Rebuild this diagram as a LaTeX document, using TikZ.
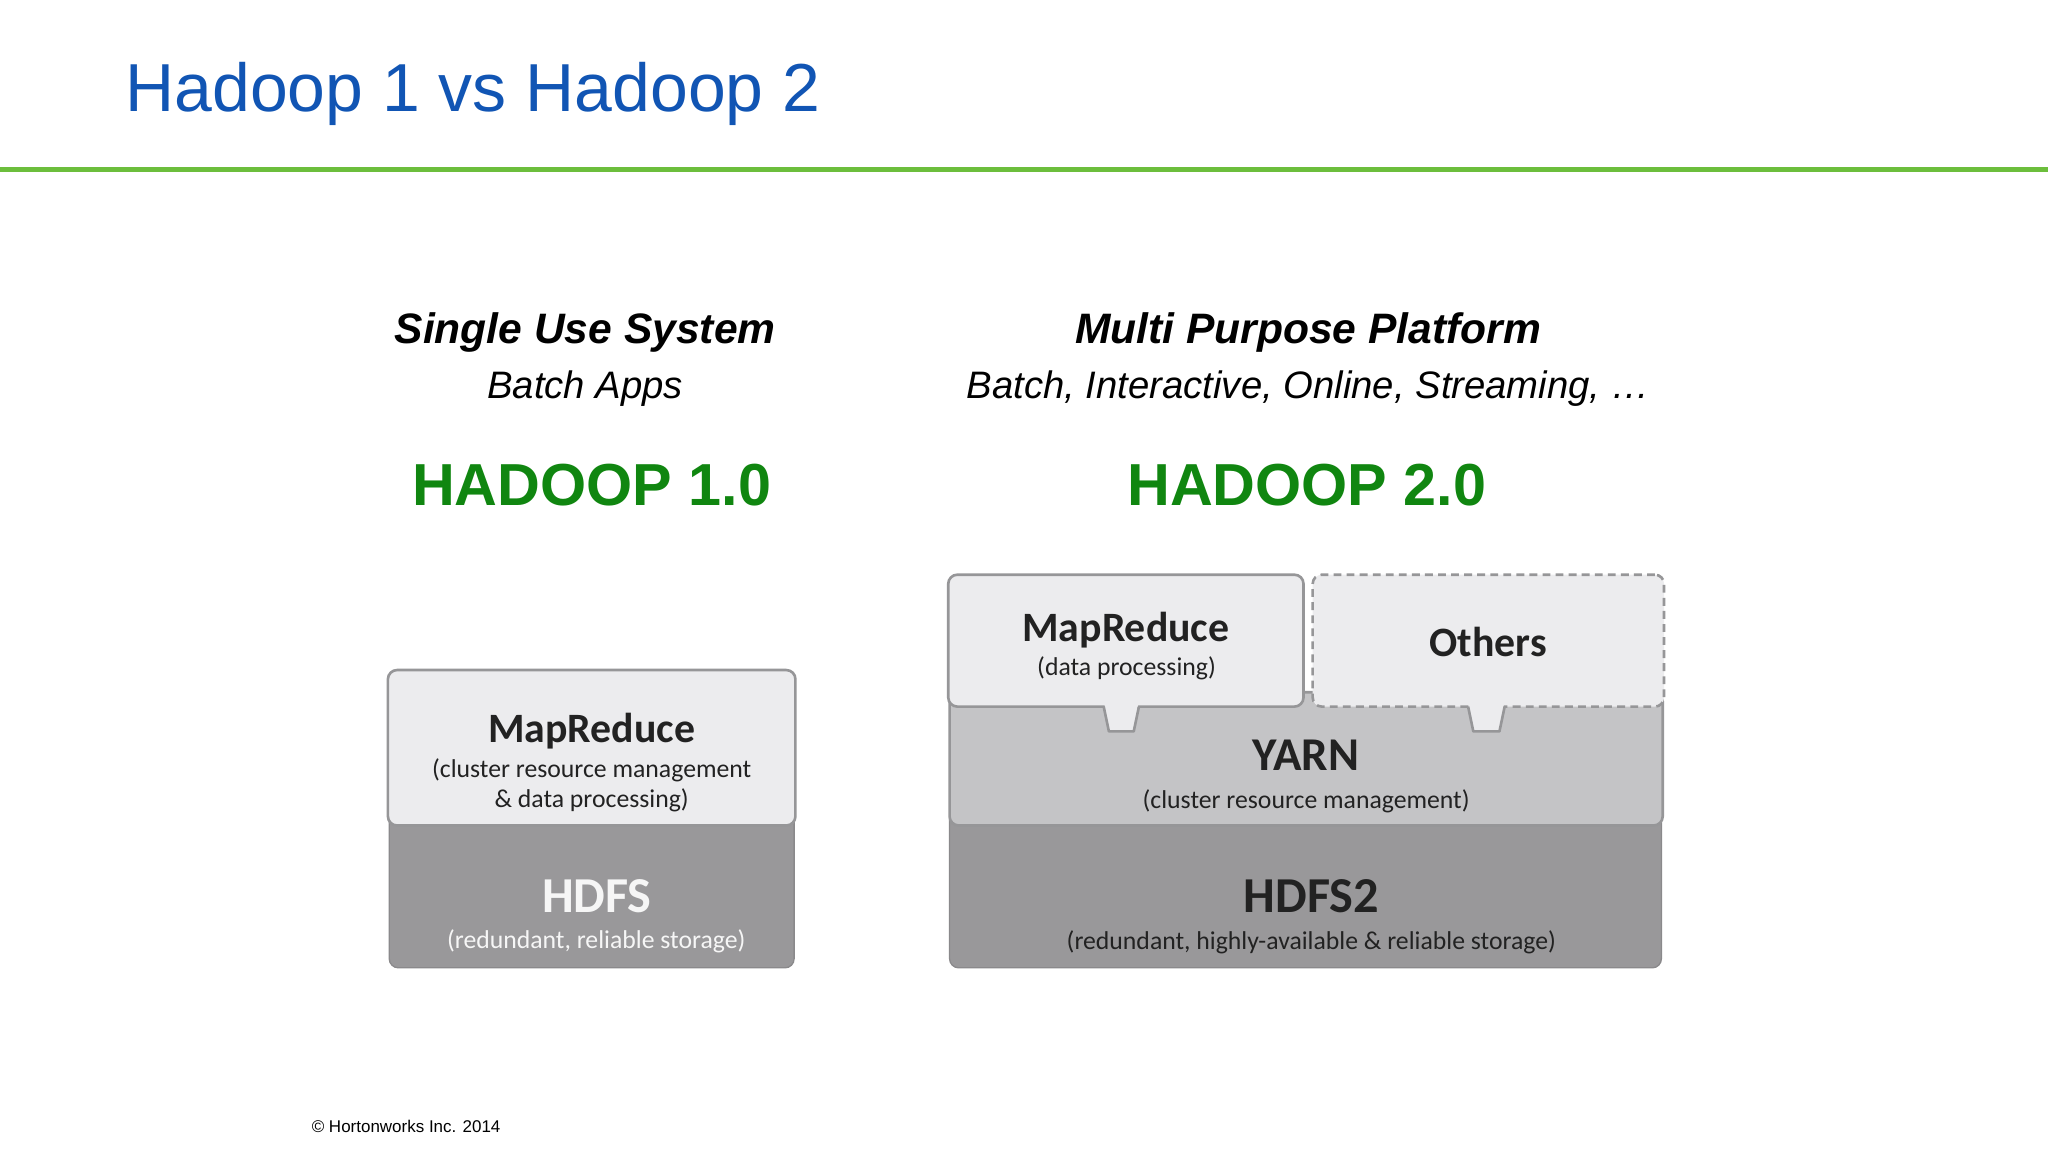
\documentclass[tikz,border=0pt]{standalone}
\usepackage{fontspec}
\setmainfont{Liberation Sans}
\newfontfamily\boxfont{Carlito}
\definecolor{titleblue}{RGB}{17,85,180}
\definecolor{rulegreen}{RGB}{108,190,60}
\definecolor{hgreen}{RGB}{16,134,16}
\definecolor{lightfill}{RGB}{236,236,238}
\definecolor{yarnfill}{RGB}{196,196,198}
\definecolor{hdfsfill}{RGB}{153,152,154}
\definecolor{boxline}{RGB}{150,150,152}
\definecolor{darktext}{RGB}{34,34,34}
\definecolor{whitetext}{RGB}{246,246,246}
\tikzset{
  panel/.style={draw=boxline, line width=2pt, rounded corners=7pt, inner sep=0pt, outer sep=0pt},
  lightbox/.style={panel, fill=lightfill},
  yarnbox/.style={panel, fill=yarnfill},
  hdfsbox/.style={panel, fill=hdfsfill, draw=hdfsfill!90!black, line width=1pt},
  dashbox/.style={lightbox, dash pattern=on 6pt off 4pt},
  bigbold/.style={anchor=base, inner sep=0pt, text=darktext, font=\boxfont\bfseries\fontsize{32}{38}\selectfont},
  small/.style={anchor=base, inner sep=0pt, text=darktext, font=\boxfont\fontsize{19.7}{24}\selectfont},
  head/.style={anchor=base, inner sep=0pt, font=\bfseries\itshape\fontsize{32.6}{38}\selectfont},
  sub/.style={anchor=base, inner sep=0pt, font=\itshape\fontsize{29.3}{34}\selectfont},
  version/.style={anchor=base, inner sep=0pt, text=hgreen, font=\bfseries\fontsize{45.4}{52}\selectfont},
}
\begin{document}
\begin{tikzpicture}[x=1pt,y=-1pt]
\useasboundingbox (0,0) rectangle (1568,882);
\fill[white] (0,0) rectangle (1568,882);

% title and rule
\node[anchor=base west, inner sep=0pt, text=titleblue, font=\fontsize{52}{60}\selectfont] (title) at (96,85) {Hadoop 1 vs Hadoop 2};
\coordinate (ruleL) at (0,130);
\coordinate (ruleR) at (1568,130);
\draw[rulegreen, line width=4pt] (ruleL) -- (ruleR);

% headers
\node[head] (h1) at (448,263) {Single Use System};
\node[sub] (s1) at (448,305) {Batch Apps};
\node[version] (v1) at (453,387) {HADOOP 1.0};
\node[head] (h2) at (1001.5,263) {Multi Purpose Platform};
\node[sub] (s2) at (1001.5,305) {Batch, Interactive, Online, Streaming, …};
\node[version] (v2) at (1000.5,387) {HADOOP 2.0};

% ---------- Hadoop 1 stack ----------
\node[hdfsbox, minimum width=310pt, minimum height=121pt] (hdfs1) at (453,680.5) {};
\node[lightbox, minimum width=312pt, minimum height=119pt] (mr1) at (453,572.5) {};
\node[bigbold] (mr1t) at (453,568.5) {MapReduce};
\node[small] (mr1a) at (453,595) {(cluster resource management};
\node[small] (mr1b) at (453,618) {\& data processing)};
\node[bigbold, text=whitetext, font=\boxfont\bfseries\fontsize{38.5}{44}\selectfont] (hdfs1t) at (457,698.5) {HDFS};
\node[small, text=whitetext] (hdfs1s) at (456.5,726.5) {(redundant, reliable storage)};

% ---------- Hadoop 2 stack ----------
\node[hdfsbox, minimum width=545pt, minimum height=121pt] (hdfs2) at (999.5,680.5) {};
\node[yarnbox, minimum width=546pt, minimum height=102pt] (yarn) at (1000,581) {};
\node[lightbox, minimum width=272pt, minimum height=101pt] (mr2) at (862,490.5) {};
\node[dashbox, minimum width=269pt, minimum height=101pt] (oth) at (1139.5,490.5) {};

% tabs
\fill[lightfill] (845.5,539) -- (849.5,559.5) -- (867.5,559.5) -- (871.5,539) -- cycle;
\draw[boxline, line width=2pt, line join=round] (845,541) -- (849,560) -- (868,560) -- (872,541);
\fill[lightfill] (1124.5,539) -- (1128.5,559.5) -- (1147.5,559.5) -- (1151.5,539) -- cycle;
\draw[boxline, line width=2pt, line join=round] (1124,541) -- (1128,560) -- (1148,560) -- (1152,541);

\node[bigbold] (mr2t) at (862,491.5) {MapReduce};
\node[small] (mr2s) at (862.5,517) {(data processing)};
\node[bigbold] (otht) at (1139.5,502.5) {Others};
\node[bigbold, font=\boxfont\bfseries\fontsize{36}{42}\selectfont] (yarnt) at (1000,590) {YARN};
\node[small] (yarns) at (1000,619) {(cluster resource management)};
\node[bigbold, font=\boxfont\bfseries\fontsize{38.5}{44}\selectfont] (hdfs2t) at (1004,698.5) {HDFS2};
\node[small] (hdfs2s) at (1004,727) {(redundant, highly-available \& reliable storage)};

% footer
\node[anchor=base west, inner sep=0pt, font=\fontsize{13}{15}\selectfont] (copy) at (238.5,867) {© Hortonworks Inc. 2014};
\end{tikzpicture}
\end{document}
